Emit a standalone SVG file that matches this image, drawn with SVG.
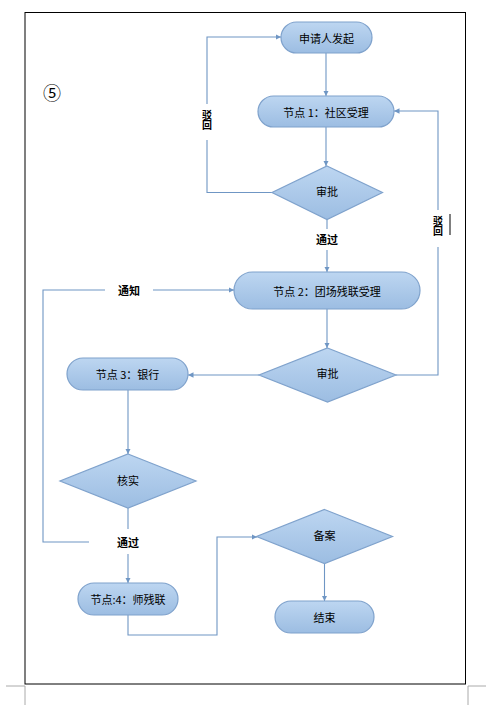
<svg xmlns="http://www.w3.org/2000/svg" width="491" height="712" viewBox="0 0 491 712">
<style>
.n{fill:url(#g);stroke:#7fa2cc;stroke-width:1.2}
.t{font-family:"Noto Sans CJK SC","Liberation Sans",sans-serif;font-size:11px;fill:#000;text-anchor:middle;dominant-baseline:central}
.b{font-weight:bold}
.v{font-family:"Noto Sans CJK SC",sans-serif;font-size:10px;font-weight:bold;fill:#000;writing-mode:vertical-rl;text-anchor:middle}
.c{fill:none;stroke:#6f96c4;stroke-width:1.1}
</style>
<defs>
<linearGradient id="g" x1="0" y1="0" x2="0" y2="1">
<stop offset="0" stop-color="#bdd6f1"/>
<stop offset="1" stop-color="#9cbde2"/>
</linearGradient>
<marker id="a" viewBox="0 0 8 8" refX="8" refY="4" markerWidth="5" markerHeight="5" orient="auto">
<path d="M0,0 L8,4 L0,8 Z" fill="#6f96c4"/>
</marker>
</defs>
<rect x="25" y="12.5" width="440.5" height="671.5" fill="#fff" stroke="#000" stroke-width="1"/>
<g fill="none" stroke="#aaa" stroke-width="1">
<path d="M6,686 H25 V705"/>
<path d="M486,686 H468 V705"/>
</g>
<text x="52" y="92" class="t" style="font-size:18px">⑤</text>
<g id="connectors">
<path class="c" d="M326,53 V96" marker-end="url(#a)"/>
<path class="c" d="M326,127 V166" marker-end="url(#a)"/>
<path class="c" d="M272,192.5 H207 V140"/>
<path class="c" d="M207,104 V37 H281" marker-end="url(#a)"/>
<path class="c" d="M327,219.5 V229"/>
<path class="c" d="M327,250 V272" marker-end="url(#a)"/>
<path class="c" d="M327,309 V348" marker-end="url(#a)"/>
<path class="c" d="M396,375 H438 V247"/>
<path class="c" d="M438,210 V111 H394" marker-end="url(#a)"/>
<path class="c" d="M259,375 H188" marker-end="url(#a)"/>
<path class="c" d="M128,390 V454" marker-end="url(#a)"/>
<path class="c" d="M128,508 V529"/>
<path class="c" d="M128,554 V583" marker-end="url(#a)"/>
<path class="c" d="M89,542 H43 V290 H105"/>
<path class="c" d="M153,290 H234" marker-end="url(#a)"/>
<path class="c" d="M128,615 V635 H217 V537 H257" marker-end="url(#a)"/>
<path class="c" d="M324.5,563 V601" marker-end="url(#a)"/>
<line x1="450" y1="214" x2="450" y2="235" stroke="#000" stroke-width="1"/>
<text x="207" y="120" class="v">驳回</text>
<text x="438" y="226" class="v">驳回</text>
<text x="327" y="239" class="t b">通过</text>
<text x="129" y="290" class="t b">通知</text>
<text x="128" y="542" class="t b">通过</text>
</g>
<g id="n1"><rect class="n" x="281" y="22" width="91" height="31" rx="15.5"/><text x="326.5" y="37.5" class="t">申请人发起</text></g>
<g id="n2"><rect class="n" x="258" y="96" width="136" height="31" rx="15.5"/><text x="326" y="111.5" class="t">节点 1：社区受理</text></g>
<g id="d1"><polygon class="n" points="327,166 382.5,192.5 327,219.5 272,192.5"/><text x="327" y="191" class="t">审批</text></g>
<g id="n3"><rect class="n" x="234" y="272" width="186" height="37" rx="18.5"/><text x="327" y="290.5" class="t">节点 2：团场残联受理</text></g>
<g id="d2"><polygon class="n" points="327.5,348 396,375 327.5,402 259,375"/><text x="327.5" y="373" class="t">审批</text></g>
<g id="n4"><rect class="n" x="67" y="358" width="121" height="32" rx="16"/><text x="127.5" y="374" class="t">节点 3：银行</text></g>
<g id="d3"><polygon class="n" points="128,454 196,481 128,508 60,481"/><text x="128" y="479.5" class="t">核实</text></g>
<g id="n5"><rect class="n" x="78" y="583" width="100" height="32" rx="16"/><text x="128" y="599" class="t">节点:4：师残联</text></g>
<g id="d4"><polygon class="n" points="324.5,509.5 392.5,536.5 324.5,563.5 256.5,536.5"/><text x="324.5" y="535" class="t">备案</text></g>
<g id="n6"><rect class="n" x="275" y="601" width="99" height="32" rx="16"/><text x="324.5" y="617" class="t">结束</text></g>
</svg>
